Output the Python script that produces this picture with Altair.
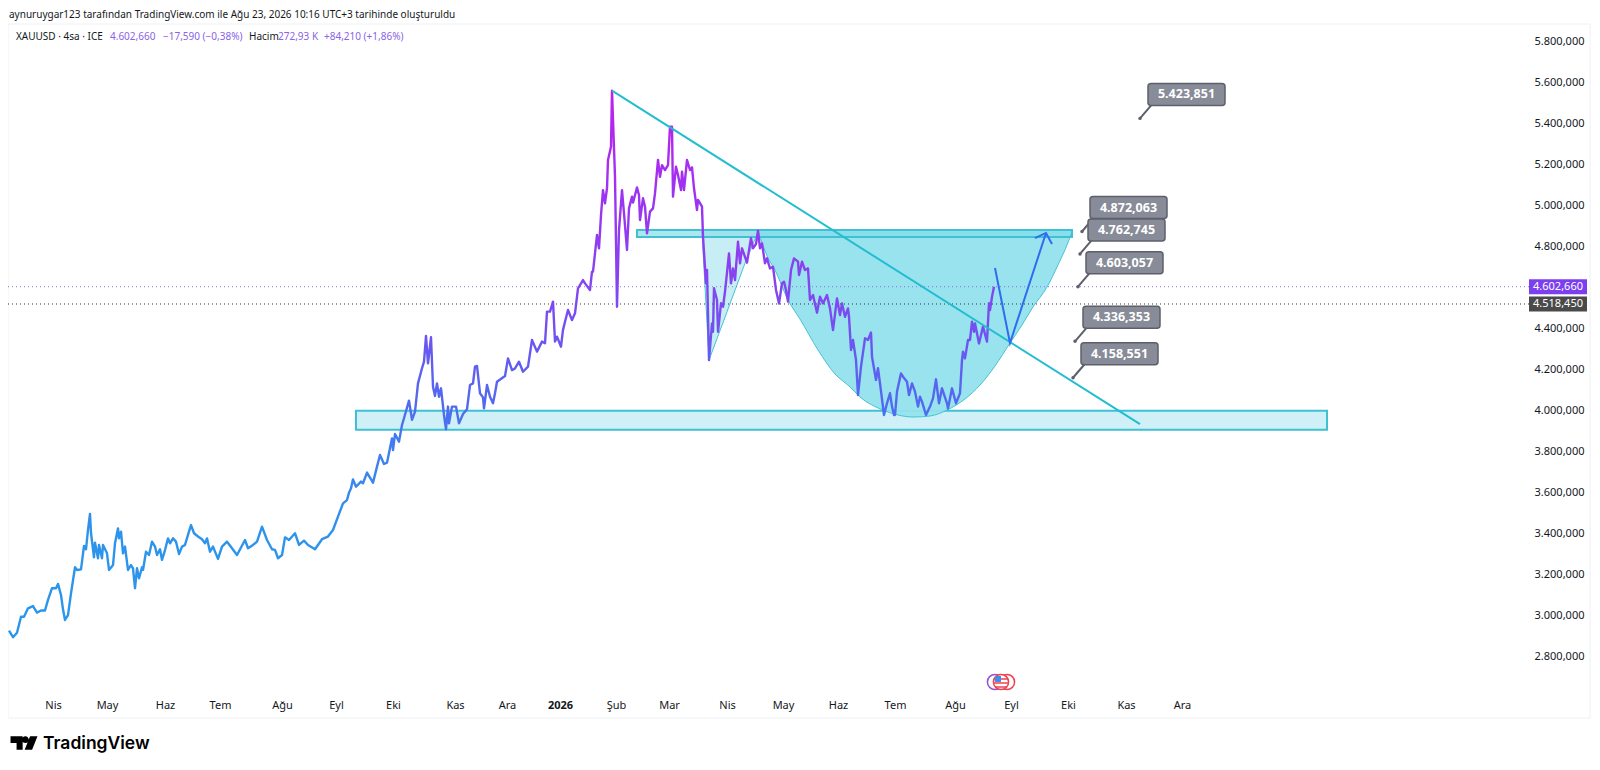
import json
import altair as alt
import pandas as pd

FONT = "Noto Sans"

# ---- price series: time-axis position and 4h close (USD)
t1 = [9,13,17,21,24,28,33,37,41,45,48,52,56,58,61,63,65,68,71,75,77,81,84,86,88,90,91,94,95,98,99,102,103,107,109,113,115,118,119,121,123,125,128,131,133,135,137,139,142,143,146,149,152,155,157,160,162,165,168,170,173,176,179,182,185,188,191,194,198,202,205,207,210,213,218,222,227,232,237,245,248,253,257,262,267,272,275,278,282,285,289,295,299,304,308,315,322,328,333,338,343,347,349]
p1 = [2925,2893,2915,2993,2993,3034,3045,3013,3023,3023,3075,3132,3132,3153,3099,3029,2977,3001,3107,3234,3221,3224,3338,3322,3416,3494,3400,3283,3354,3278,3343,3278,3343,3302,3221,3245,3351,3424,3375,3408,3302,3335,3221,3245,3229,3132,3229,3180,3234,3221,3310,3294,3359,3335,3294,3322,3270,3318,3375,3351,3375,3359,3299,3335,3343,3392,3440,3400,3384,3371,3351,3375,3310,3335,3275,3335,3359,3327,3294,3367,3327,3343,3359,3432,3367,3322,3319,3278,3294,3380,3367,3400,3343,3364,3343,3322,3371,3384,3416,3481,3546,3562,3598]
t2 = [351,353,356,361,363,367,373,377,380,384,387,392,393,395,399,402,404,409,412,415,418,422,424,426,428,431,433,435,437,439,441,444,446,448,449,452,456,459,463,467,470,473,475,477,480,483,484,487,490,493,495,497,505,508,512,515,519,523,528,532,537,542]
p2 = [3619,3663,3627,3652,3644,3696,3647,3725,3782,3738,3744,3863,3806,3884,3847,3928,3961,4047,3953,3993,4131,4205,4237,4362,4229,4356,4115,4070,4131,4066,4107,3977,3907,4018,3936,4018,4018,3936,3982,4005,4123,4131,4213,4216,4083,4063,4009,4123,4066,4034,4083,4139,4167,4253,4196,4204,4237,4188,4213,4343,4286,4335]
t3 = [545,547,550,553,555,557,561,563,565,568,572,575,578,583,585,590,592,593,597,599,601,603,605,607,608,611,612,615,617,619,622,624,627,629,632,633,637,639,640,643,645,647,650,653,655,658,660,662,665,668,670,672,673,676,678,681,682,684,687,690,692,694,697,698,702,703]
p3 = [4327,4481,4481,4530,4335,4359,4310,4392,4432,4489,4440,4473,4595,4635,4619,4587,4676,4676,4855,4790,4952,5074,5009,5083,5221,5286,5559,5139,4505,4879,5074,4961,4782,4985,5042,5013,5087,5050,4928,5034,4993,4863,4969,4985,5058,5221,5139,5196,5172,5196,5383,5383,5042,5188,5148,5074,5164,5074,5221,5172,5185,5083,4977,5026,4993,4847]
t4 = [706,707,709,712,713,714,717,718,721,723,725,729,731,733,735,738,740,742,747,751,753,756,758,760,762,765,767,770,773,776,779,782,784,786,788,791,794,798,799,802,805,808,810,813,817,820,823,827,830,833,837,840,842,845,848]
p4 = [4619,4684,4245,4424,4383,4595,4538,4383,4522,4505,4578,4765,4619,4692,4635,4822,4717,4790,4720,4839,4790,4811,4876,4790,4814,4717,4741,4692,4700,4587,4521,4619,4627,4587,4530,4684,4741,4725,4660,4725,4684,4692,4538,4562,4476,4554,4521,4562,4497,4391,4546,4465,4521,4456,4497]
t5 = [849,851,853,856,858,861,865,868,871,872,876,878,880,884,887,890,892,894,895,897,901,903,907,909,912,915,918,920,922,926,930,933,936,939,942,947,948,952,956,960,962,963,965,968,970,972,974,975,979,983,987,989,990,992,994]
p5 = [4457,4294,4343,4245,4074,4213,4351,4343,4379,4261,4148,4205,4131,3977,4034,4083,4018,3977,3977,4091,4180,4164,4139,4074,4131,4091,4018,4066,4042,3977,4018,4058,4151,4034,4107,4034,4009,4107,4034,4083,4245,4286,4253,4343,4343,4432,4383,4424,4326,4408,4335,4522,4489,4554,4603]

# ---- drawings on the chart
arc_t = [758,768,775,788,800,818,835,850,860,883,898,913,930,947,965,980,995,1010,1022,1033,1047,1058,1070,1072]
arc_p = [4874,4743,4684,4538,4445,4294,4177,4114,4065,4001,3977,3967,3972,4001,4055,4123,4216,4328,4416,4504,4601,4709,4845,4874]
wedge_t = [702,709,727,745,758]
wedge_p = [4874,4245,4480,4718,4870]
arc_top = 4874
trend_t = [612,1140]
trend_p = [5559,3932]
arrow_t = [995,1010,1046]
arrow_p = [4694,4328,4865]
head_t = [1035,1046,1052]
head_p = [4840,4865,4811]
zones = [
    {"t0": 356, "t1": 1327, "p0": 3905, "p1": 3998, "fill": "#cff0f7"},
    {"t0": 637, "t1": 1072, "p0": 4845, "p1": 4879, "fill": "#c6eef5"},
]
tag_t = [1140, 1082, 1080, 1078, 1075, 1073]
tag_p = [5423.851, 4872.063, 4762.745, 4603.057, 4336.353, 4158.551]
tag_text = ["5.423,851", "4.872,063", "4.762,745", "4.603,057", "4.336,353", "4.158,551"]

last_price = 4602.66
prev_close = 4518.45
y_ticks = [5800,5600,5400,5200,5000,4800,4600,4400,4200,4000,3800,3600,3400,3200,3000,2800]
month_t = [53,107,165,220,282,336,393,455,507,560,616,669,727,783,838,895,955,1011,1068,1126,1182]
month_names = ["Nis","May","Haz","Tem","Ağu","Eyl","Eki","Kas","Ara","2026","Şub","Mar","Nis","May","Haz","Tem","Ağu","Eyl","Eki","Kas","Ara"]

# ---- tables
t_all = t1 + t2 + t3 + t4 + t5
p_all = p1 + p2 + p3 + p4 + p5
series = pd.DataFrame({"t": t_all, "p": p_all, "i": range(len(t_all))})
arc = pd.DataFrame({"t": arc_t, "p": arc_p, "top": arc_top})
wedge = pd.DataFrame({"t": wedge_t, "p": wedge_p, "top": arc_top})
trend = pd.DataFrame({"t": trend_t, "p": trend_p})
arrow = pd.DataFrame({"t": arrow_t, "p": arrow_p, "i": range(3)})
head = pd.DataFrame({"t": head_t, "p": head_p, "i": range(3)})
zone_df = pd.DataFrame(zones)
PX = 1 / 0.205  # price units per vertical pixel
tags = pd.DataFrame({"t": tag_t, "p": tag_p, "label": tag_text, "i": range(6)})
tags["box_t0"] = tags.t + 8
tags["box_t1"] = tags.t + 85
tags["box_p0"] = tags.p + 13 * PX
tags["box_p1"] = tags.p + 35 * PX
tags["tail_t"] = tags.t + 12
tags["tail_p"] = tags.p + 14 * PX
tags["mid_t"] = tags.t + 46.5
tags["mid_p"] = tags.p + 24 * PX

W, H = 1521, 671
xs = alt.Scale(domain=[8, 1529], nice=False, zero=False)
ys = alt.Scale(domain=[2611, 5884.3], nice=False, zero=False)

month_map = json.dumps({str(k): v for k, v in zip(month_t, month_names)}, ensure_ascii=False)
bold_t = month_t[month_names.index("2026")]
x_axis = alt.Axis(
    values=month_t, title=None, grid=False, domain=False, ticks=False,
    labelExpr=f"({month_map})[''+datum.value]", labelFontSize=11, labelColor="#131722",
    labelFont=FONT, labelPadding=4, labelOverlap=False, labelBound=False, labelFlush=False,
    labelFontWeight={"condition": {"test": f"datum.value=={bold_t}", "value": "bold"}, "value": "normal"},
)
y_axis = alt.Axis(
    orient="right", values=y_ticks, title=None, grid=False, domain=False, ticks=False,
    labelExpr="replace(format(datum.value, ','), ',', '.') + ',000'", labelAlign="right",
    labelPadding=55, labelFontSize=11, labelColor="#131722", labelFont=FONT, labelOverlap=False,
)


def X(f="t"):
    return alt.X(f"{f}:Q", scale=xs, axis=x_axis)


def Y(f="p"):
    return alt.Y(f"{f}:Q", scale=ys, axis=y_axis)


one = pd.DataFrame({"a": [0]})

frame = alt.Chart(one).mark_rect(fill="transparent", stroke="#eef0f4", strokeWidth=1).encode(
    x=alt.value(0), x2=alt.value(1582), y=alt.value(0), y2=alt.value(694))

zone_l = alt.Chart(zone_df).mark_rect(stroke="#3fc1d3", strokeWidth=2).encode(
    x=X("t0"), x2="t1:Q", y=Y("p0"), y2="p1:Q", fill=alt.Fill("fill:N", scale=None))
arc_l = alt.Chart(arc).mark_area(color="#93e2ed", opacity=0.95, interpolate="monotone",
                                 line={"color": "#45c3d4", "strokeWidth": 1}).encode(
    x=X(), y=Y(), y2="top:Q")
wedge_l = alt.Chart(wedge).mark_area(color="#aee7f0", line={"color": "#45c3d4", "strokeWidth": 1}).encode(
    x=X(), y=Y(), y2="top:Q")
zone_top = alt.Chart(zone_df.iloc[[1]]).mark_rect(fill="#5fd0df", fillOpacity=0.25, stroke="#3fc1d3", strokeWidth=2).encode(
    x=X("t0"), x2="t1:Q", y=Y("p0"), y2="p1:Q")

rule_last = alt.Chart(pd.DataFrame({"p": [last_price]})).mark_rule(
    color="#8e74d8", strokeWidth=1, strokeDash=[1, 3]).encode(y=Y())
rule_prev = alt.Chart(pd.DataFrame({"p": [prev_close]})).mark_rule(
    color="#333333", strokeWidth=1, strokeDash=[1, 3]).encode(y=Y())

span = max(p_all) - min(p_all)
stop_prices = [min(p_all), 3400, 3800, 4000, 4200, 4400, 4600, 5000, max(p_all)]
stop_colors = ["#2a96ea", "#2d93ec", "#3f7ff0", "#4f6cef", "#5f5ff0", "#7350f0", "#8445f0", "#9a35f0", "#c01ff0"]
grad = alt.LinearGradient(
    gradient="linear", x1=0, x2=0, y1=1, y2=0,
    stops=[alt.GradientStop(color=c, offset=(v - min(p_all)) / span) for v, c in zip(stop_prices, stop_colors)],
)
line = alt.Chart(series).mark_line(stroke=grad, strokeWidth=2.4, strokeJoin="round").encode(
    x=X(), y=Y(), order="i:Q")

trend_l = alt.Chart(trend).mark_line(color="#22bdd0", strokeWidth=2).encode(x=X(), y=Y())
arrow_l = alt.Chart(arrow).mark_line(color="#2f6cf0", strokeWidth=2).encode(x=X(), y=Y(), order="i:Q")
head_l = alt.Chart(head).mark_line(color="#2f6cf0", strokeWidth=2).encode(x=X(), y=Y(), order="i:Q")

tail_l = alt.Chart(tags).mark_rule(color="#5d606b", strokeWidth=2).encode(
    x=X(), y=Y(), x2="tail_t:Q", y2="tail_p:Q")
dot_l = alt.Chart(tags).mark_point(filled=True, color="#5d606b", size=12, opacity=1).encode(x=X(), y=Y())
box_l = alt.Chart(tags).mark_rect(fill="#888b98", stroke="#5d606b", strokeWidth=1.5, cornerRadius=3).encode(
    x=X("box_t0"), x2="box_t1:Q", y=Y("box_p0"), y2="box_p1:Q", order="i:Q")
tag_txt = alt.Chart(tags).mark_text(color="#ffffff", fontSize=12.5, fontWeight="bold", font=FONT).encode(
    x=X("mid_t"), y=Y("mid_p"), text="label:N")

# price tags on the right scale
price_boxes = pd.DataFrame({
    "p0": [last_price - 7.5 * PX, prev_close - 7.5 * PX],
    "p1": [last_price + 7.5 * PX, prev_close + 7.5 * PX],
    "p": [last_price, prev_close],
    "label": ["4.602,660", "4.518,450"],
    "c": ["#7b3fef", "#4a4a4a"],
})
pb = alt.Chart(price_boxes).mark_rect().encode(
    x=alt.value(W), x2=alt.value(W + 58), y=Y("p0"), y2="p1:Q", fill=alt.Fill("c:N", scale=None))
pt = alt.Chart(price_boxes).mark_text(color="#ffffff", fontSize=11, font=FONT).encode(
    x=alt.value(W + 29), y=Y(), text="label:N")


def txt(x, y, s, color="#131722", size=10, weight="normal", font=FONT, align="left"):
    return alt.Chart(one).mark_text(align=align, baseline="middle", color=color, fontSize=size,
                                    fontWeight=weight, font=font).encode(
        x=alt.value(x - 8), y=alt.value(y - 24), text=alt.value(s))


PURPLE = "#8a63e8"
legend = [
    txt(16, 37, "XAUUSD · 4sa · ICE"),
    txt(110, 37, "4.602,660", PURPLE),
    txt(163, 37, "−17,590 (−0,38%)", PURPLE),
    txt(249, 37, "Hacim"),
    txt(278, 37, "272,93 K", PURPLE),
    txt(324, 37, "+84,210 (+1,86%)", PURPLE),
    txt(43, 744, "TradingView", "#000000", 17.5, 600, "Inter"),
]


# events badge near the time axis
def ring(x, color, fill="transparent", size=230):
    return alt.Chart(one).mark_point(shape="circle", filled=False, fill=fill, stroke=color, strokeWidth=1.5,
                                     size=size, opacity=1).encode(x=alt.value(x - 8), y=alt.value(682 - 24))


def stripe(x0, x1, y, color="#f0404f"):
    return alt.Chart(one).mark_rule(color=color, strokeWidth=1.5).encode(
        x=alt.value(x0 - 8), x2=alt.value(x1 - 8), y=alt.value(y - 24))


badge = [
    ring(995, "#9a4fd0"), ring(1007, "#f0404f"), ring(1001, "#f0404f", "#ffffff"),
    stripe(997, 1008, 679), stripe(994, 1008, 683), stripe(995, 1007, 687),
    alt.Chart(one).mark_point(shape="square", filled=True, color="#3f8fe8", size=36, opacity=1).encode(
        x=alt.value(998 - 8), y=alt.value(679 - 24)),
]

LOGO = ("M-1,-0.5 H-0.1 V0.5 H-0.55 V0 H-1 Z "
        "M0.1,-0.5 A0.24,0.24 0 1 1 0.1,0 A0.24,0.24 0 1 1 0.1,-0.5 Z "
        "M0.45,-0.5 H1 L0.6,0.5 H0.05 Z")
logo = alt.Chart(one).mark_point(shape=LOGO, filled=True, color="#000000", size=728, opacity=1, strokeWidth=0).encode(
    x=alt.value(24 - 8), y=alt.value(743 - 24))

chart = alt.layer(
    frame, zone_l, wedge_l, arc_l, zone_top, rule_last, rule_prev, line, trend_l, arrow_l, head_l,
    tail_l, dot_l, box_l, tag_txt, pb, pt, *legend, *badge, logo,
).properties(
    width=W, height=H,
    view=alt.ViewBackground(stroke="transparent", strokeWidth=0),
    title=alt.TitleParams(
        "aynuruygar123 tarafından TradingView.com ile Ağu 23, 2026 10:16 UTC+3 tarihinde oluşturuldu",
        anchor="start", frame="group", fontSize=10, fontWeight="normal", font=FONT, color="#131722",
        offset=4, dx=1,
    ),
    autosize=alt.AutoSizeParams(type="none"),
    padding={"left": 0, "top": 16, "right": 62, "bottom": 65},
).configure_view(stroke="transparent", strokeWidth=0).configure(background="#ffffff")

chart.save("out.html", embed_options={"renderer": "svg", "actions": False})
